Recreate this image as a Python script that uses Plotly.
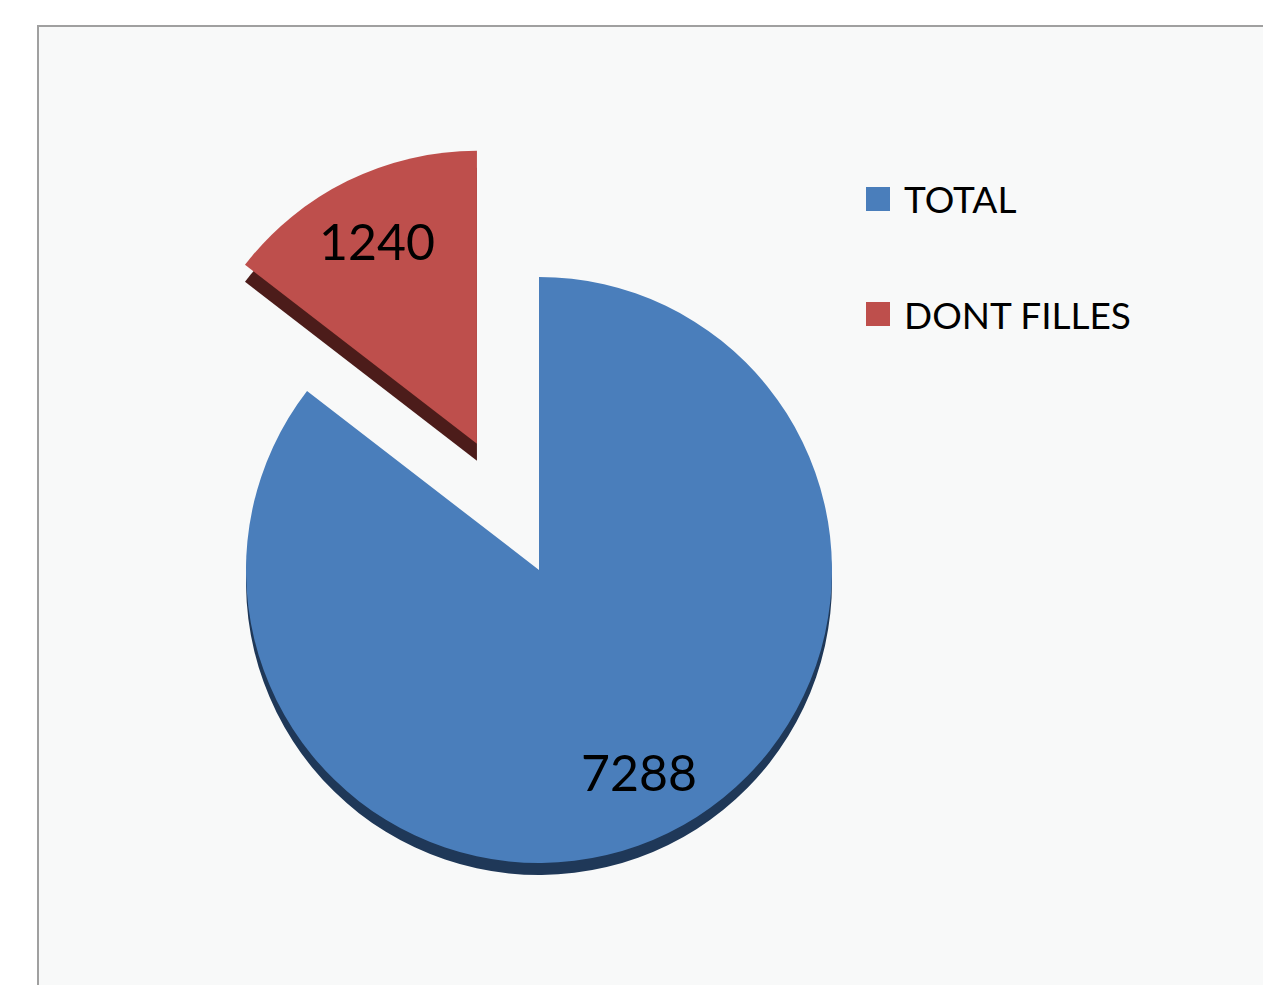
import math
import plotly.graph_objects as go

# ---- data ----
labels = ["TOTAL", "DONT FILLES"]
values = [7288, 1240]
pulls = [0.0, 0.48]

# ---- style ----
face_colors = ["#4A7EBB", "#BE4F4C"]
side_colors = ["#1F3858", "#4C1C1A"]
depths_px = [12, 17]
CLEAR = "rgba(0,0,0,0)"
W, H = 1271, 985
OFF = 8  # page body margin of the html page
FONT = "Lato"


def fx(px):
    return (px - OFF) / W


def fy(py):
    return 1 - (py - OFF) / H


# pie geometry (screen pixels)
cx_px, cy_px = 539, 570
r_px = 293


def square_domain(cx, cy, half):
    return dict(x=[fx(cx - half), fx(cx + half)],
                y=[max(0.0, fy(cy + half)), min(1.0, fy(cy - half))])


total = sum(values)
cum = 0.0
mids = []
for v in values:
    mids.append(2 * math.pi * (cum + v / 2) / total)  # clockwise from 12 o'clock
    cum += v


def slice_center(i):
    """Centre of slice i once it is pulled out along its mid angle."""
    off = pulls[i] * r_px
    return cx_px + off * math.sin(mids[i]), cy_px - off * math.cos(mids[i])


def slice_pie(i, colors, dy, **kw):
    cols = [colors[j] if j == i else CLEAR for j in range(len(values))]
    scx, scy = slice_center(i)
    return go.Pie(
        labels=labels, values=values, sort=False,
        direction="clockwise", rotation=0,
        marker=dict(colors=cols, line=dict(width=0)),
        textinfo="none", showlegend=False,
        domain=square_domain(scx, scy + dy, r_px),
        **kw,
    )


fig = go.Figure()

# side / depth of each slice (darker copy, shifted down)
for i in range(len(values)):
    fig.add_trace(slice_pie(i, side_colors, depths_px[i], hoverinfo="skip"))

# top faces
for i in range(len(values)):
    hi = ["label+value+percent" if j == i else "skip" for j in range(len(values))]
    fig.add_trace(slice_pie(i, face_colors, 0, hoverinfo=hi))

shapes = [
    dict(type="rect", xref="paper", yref="paper",
         x0=fx(38), x1=1.02, y0=-0.02, y1=fy(26),
         fillcolor="#F8F9F9", line=dict(color="#A0A0A0", width=2), layer="below"),
]
annotations = []

# value labels, placed along each slice's mid angle (best-fit style)
label_r = 0.77
for i, val in enumerate(values):
    scx, scy = slice_center(i)
    x = scx + label_r * r_px * math.sin(mids[i])
    y = scy - label_r * r_px * math.cos(mids[i])
    annotations.append(dict(text=str(val), xref="paper", yref="paper",
                            x=fx(x), y=fy(y), xanchor="center", yanchor="middle",
                            showarrow=False,
                            font=dict(family=FONT, size=50, color="#000000")))

# legend built from the label / colour arrays
leg_x = 866
leg_y0 = 199
leg_gap = 115
sq = 24
for i, (lab, col) in enumerate(zip(labels, face_colors)):
    yc = leg_y0 + i * leg_gap
    shapes.append(dict(type="rect", xref="paper", yref="paper",
                       x0=fx(leg_x), x1=fx(leg_x + sq),
                       y0=fy(yc + sq / 2), y1=fy(yc - sq / 2),
                       fillcolor=col, line=dict(width=0)))
    annotations.append(dict(text=lab, xref="paper", yref="paper",
                            x=fx(leg_x + sq + 12), y=fy(yc),
                            xanchor="left", yanchor="middle", showarrow=False,
                            font=dict(family=FONT, size=37, color="#000000")))

fig.update_layout(
    width=W, height=H,
    margin=dict(l=0, r=0, t=0, b=0, autoexpand=False),
    paper_bgcolor="#FFFFFF",
    plot_bgcolor="#FFFFFF",
    shapes=shapes,
    annotations=annotations,
    showlegend=False,
)

fig.write_html("out.html")
